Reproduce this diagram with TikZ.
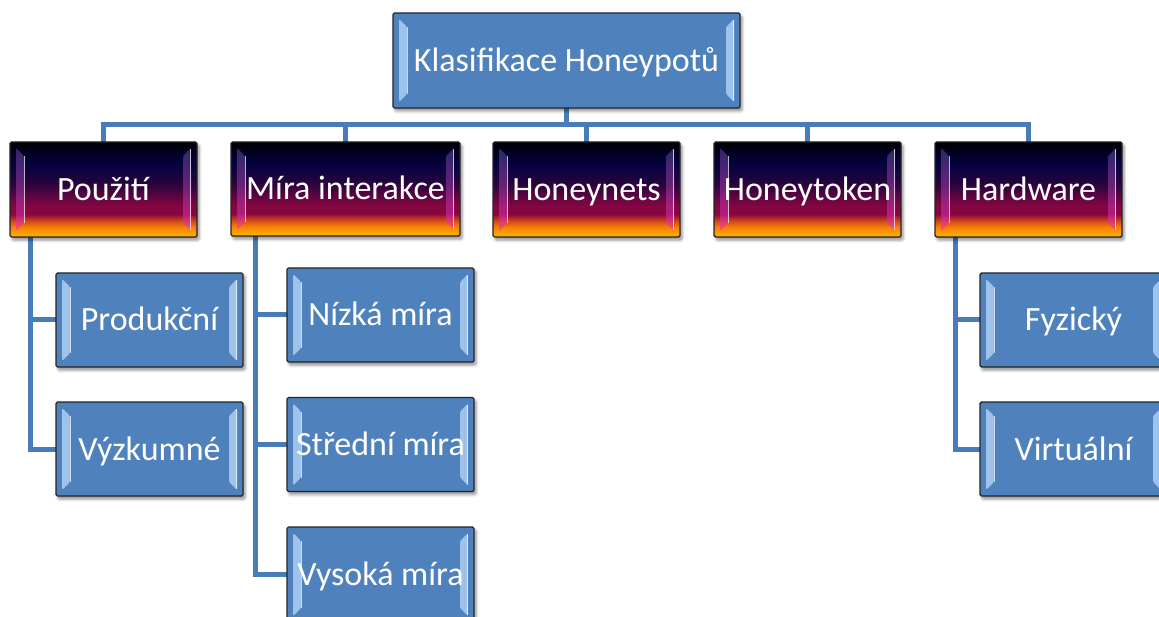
\documentclass[tikz,border=0pt]{standalone}
\usepackage{fontspec}
\setmainfont{Carlito}
\usetikzlibrary{shadows.blur,calc}

\definecolor{boxblue}{RGB}{79,129,189}
\definecolor{linkblue}{RGB}{72,123,185}
\definecolor{bevellight}{RGB}{172,206,242}
\definecolor{sunA}{RGB}{0,0,34}
\definecolor{sunB}{RGB}{8,2,66}
\definecolor{sunC}{RGB}{40,4,60}
\definecolor{sunD}{RGB}{96,4,66}
\definecolor{sunE}{RGB}{134,6,64}
\definecolor{sunF}{RGB}{200,62,30}
\definecolor{sunG}{RGB}{244,124,8}
\definecolor{sunH}{RGB}{255,182,0}

% dark "sunset" fill: black at the top, navy, maroon, then orange at the bottom
\pgfdeclareverticalshading{sunset}{100bp}{%
  color(0bp)=(sunH); color(25bp)=(sunH); color(30.5bp)=(sunG);
  color(34bp)=(sunF); color(37bp)=(sunE); color(41bp)=(sunE); color(46bp)=(sunD);
  color(53bp)=(sunC); color(62bp)=(sunB); color(70bp)=(sunA);
  color(75bp)=(black); color(100bp)=(black)}

% light bevel strips along the left and right inner edges of a box
\newcommand\bevelstrips[3]{%
  \shade[top color=#1, bottom color=#2, opacity=#3]
    let \p1=(path picture bounding box.north west),
        \p2=(path picture bounding box.south east) in
    (\x1+6pt,\y1-6pt) -- (\x1+14pt,\y1-14pt) -- (\x1+14pt,\y2+14pt)
      -- (\x1+6pt,\y2+6pt) -- cycle
    (\x2-6pt,\y1-6pt) -- (\x2-14pt,\y1-14pt) -- (\x2-14pt,\y2+14pt)
      -- (\x2-6pt,\y2+6pt) -- cycle;
  \draw[white, opacity=0.7, line width=0.9pt]
    let \p1=(path picture bounding box.north west),
        \p2=(path picture bounding box.south east) in
    (\x1+14pt,\y1-14pt) -- (\x1+14pt,\y2+14pt)
    (\x2-7pt,\y1-7pt) -- (\x2-7pt,\y2+7pt);
}

\tikzset{
  boxbase/.style={rectangle, rounded corners=1.5pt, draw=black!85,
    line width=1.4pt, text=white, font=\fontsize{34}{37}\selectfont,
    inner sep=0pt, outer sep=0pt, text height=22pt, text depth=0pt,
    minimum width=187pt, minimum height=95pt,
    blur shadow={shadow xshift=2pt, shadow yshift=-3pt,
      shadow blur radius=3pt, shadow opacity=45}},
  bluebox/.style={boxbase, fill=boxblue,
    path picture={\bevelstrips{bevellight}{bevellight}{0.85}}},
  sunbox/.style={boxbase, shade, shading=sunset,
    path picture={\bevelstrips{blue!45!black!70!white}{magenta!70!orange}{0.55}}},
  link/.style={draw=linkblue, line width=5pt},
}

\pgfdeclarelayer{bg}
\pgfsetlayers{bg,main}

\begin{document}
\begin{tikzpicture}[x=1pt, y=-1pt]
  \useasboundingbox (0,0) rectangle (1159,617);
  \clip (0,0) rectangle (1159,617);

  % root
  \node[bluebox, minimum width=347pt] (root) at (566.5,60.5) {Klasifikace Honeypotů};

  % first level
  \node[sunbox] (pouziti) at (103.5,189.5) {Použití};
  \node[sunbox, minimum width=229pt, minimum height=94pt] (mira) at (345.5,189) {Míra interakce};
  \node[sunbox] (honeynets) at (586.5,189.5) {Honeynets};
  \node[sunbox] (honeytoken) at (807.5,189.5) {Honeytoken};
  \node[sunbox] (hardware) at (1028.5,189.5) {Hardware};

  % second level
  \node[bluebox, minimum height=94pt] (produkcni) at (149.5,320) {Produkční};
  \node[bluebox, minimum height=94pt] (vyzkumne) at (149.5,449) {Výzkumné};
  \node[bluebox, minimum height=94pt] (nizka) at (380.5,315) {Nízká míra};
  \node[bluebox, minimum height=94pt] (stredni) at (380.5,444.5) {Střední míra};
  \node[bluebox] (vysoka) at (380.5,574.5) {Vysoká míra};
  \node[bluebox, minimum height=94pt] (fyzicky) at (1073.5,320) {Fyzický};
  \node[bluebox, minimum height=94pt] (virtualni) at (1073.5,449) {Virtuální};

  \begin{pgfonlayer}{bg}
    % root to first level
    \foreach \c in {pouziti,mira,honeynets,honeytoken,hardware}
      \draw[link] (root.south) -- ++(0,17) -| (\c.north);
    % first level to second level
    \draw[link] ([xshift=20pt]pouziti.south west) |- (produkcni.west);
    \draw[link] ([xshift=20pt]pouziti.south west) |- (vyzkumne.west);
    \draw[link] ([xshift=24pt]mira.south west) |- (nizka.west);
    \draw[link] ([xshift=24pt]mira.south west) |- (stredni.west);
    \draw[link] ([xshift=24pt]mira.south west) |- (vysoka.west);
    \draw[link] ([xshift=20pt]hardware.south west) |- (fyzicky.west);
    \draw[link] ([xshift=20pt]hardware.south west) |- (virtualni.west);
  \end{pgfonlayer}
\end{tikzpicture}
\end{document}
